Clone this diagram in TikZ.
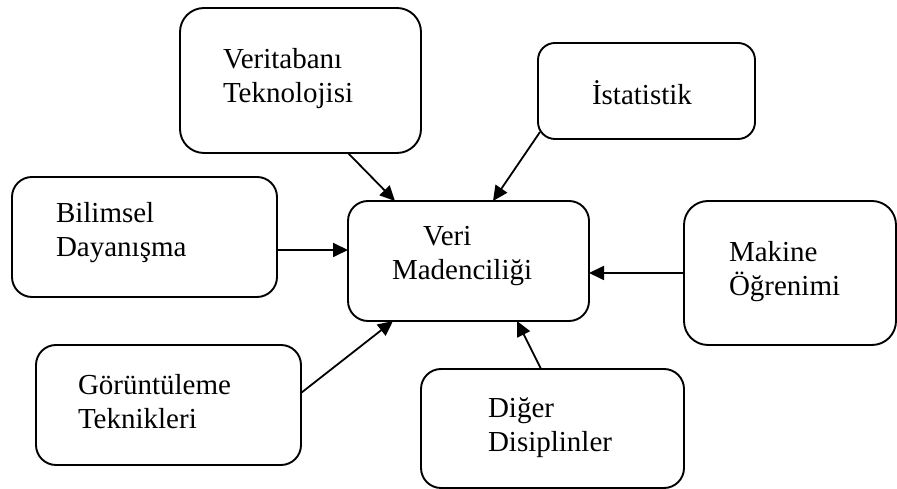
\documentclass[tikz,border=0pt]{standalone}
\usepackage{fontspec}
\setmainfont{Liberation Serif}
\usetikzlibrary{arrows.meta}
\begin{document}
\begin{tikzpicture}[x=1pt,y=1pt,
  box/.style n args={3}{draw=black, line width=1.9pt, rounded corners=#3,
    minimum width=#1, minimum height=#2, inner sep=0pt, outer sep=0pt},
  % base anchor of a two-line label sits on its last line
  lbl/.style={anchor=base west, align=left, inner sep=0pt, outer sep=0pt,
    font=\fontsize{29}{34.5}\selectfont},
  arr/.style={draw=black, line width=1.8pt,
    -{Triangle[length=15pt,width=14pt]}}]
\useasboundingbox (0,0) rectangle (897,489);

% boxes around the central topic
\node[box={241pt}{145pt}{24pt}] (vt)  at (300.5,408.5) {};
\node[box={217pt}{96pt}{17pt}]  (ist) at (646.5,398) {};
\node[box={265pt}{120pt}{20pt}] (bil) at (144.5,252) {};
\node[box={241pt}{120pt}{20pt}] (vm)  at (468.5,228) {};
\node[box={212pt}{144pt}{24pt}] (mak) at (790,216) {};
\node[box={265pt}{120pt}{20pt}] (gor) at (168.5,84) {};
\node[box={263pt}{119pt}{20pt}] (dig) at (552.5,60.5) {};

% labels
\node[lbl] (vtt)  at (223,386) {Veritabanı\\Teknolojisi};
\node[lbl] (istt) at (592,384) {İstatistik};
\node[lbl] (bilt) at (56,232) {Bilimsel\\Dayanışma};
\node[lbl] (vmt)  at (392,209) {\hspace*{31pt}Veri\\Madenciliği};
\node[lbl] (makt) at (729,193) {Makine\\Öğrenimi};
\node[lbl] (gort) at (78,60) {Görüntüleme\\Teknikleri};
\node[lbl] (digt) at (488,37) {Diğer\\Disiplinler};

% connectors into the central box
\draw[arr] ([xshift=47.5pt]vt.south) -- ([xshift=-73.5pt]vm.north);
\draw[arr] ([xshift=2pt,yshift=7pt]ist.south west) -- ([xshift=24.5pt]vm.north);
\draw[arr] ([yshift=-13pt]bil.east) -- ([yshift=-13pt]bil.east -| vm.west);
\draw[arr] (mak.west) -- (mak.west -| vm.east);
\draw[arr] ([yshift=12pt]gor.east) -- ([xshift=-75.5pt]vm.south);
\draw[arr] ([xshift=-11.5pt]dig.north) -- ([xshift=48.5pt]vm.south);
\end{tikzpicture}
\end{document}
